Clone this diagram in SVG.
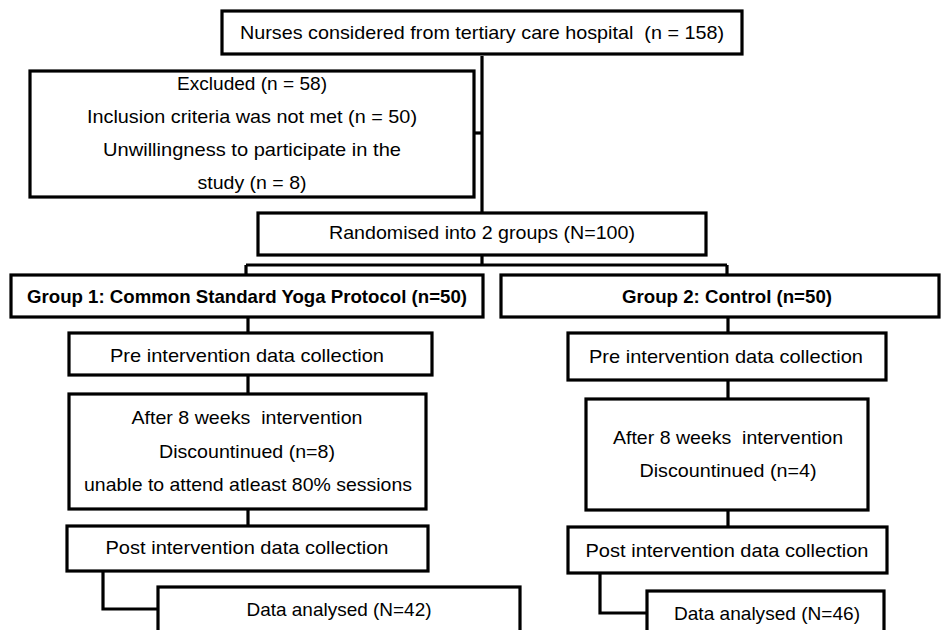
<svg xmlns="http://www.w3.org/2000/svg" width="942" height="630" viewBox="0 0 942 630">
<style>
rect.box{fill:#fff;stroke:#000;stroke-width:3.2}
.c{fill:none;stroke:#000;stroke-width:3.2}
text{font-family:"Liberation Sans",Arial,sans-serif;font-size:19px;fill:#000;text-anchor:middle}
text.b{font-weight:bold}
</style>
<rect width="942" height="630" fill="#fff"/>
<g id="connectors">
<path class="c" d="M482 56V214"/>
<path class="c" d="M474 133H482"/>
<path class="c" d="M482 255V265M246 265H727M246 265V276M727 265V276"/>
<path class="c" d="M248 317V334M248 375V394M248 509V527"/>
<path class="c" d="M728 317V334M728 380V399M728 510V528"/>
<path class="c" d="M103 571V609H158"/>
<path class="c" d="M600 573V613H647"/>
</g>
<g id="n_nurses"><rect class="box" x="222" y="11" width="520" height="43"/>
<text x="482" y="39" textLength="484" lengthAdjust="spacingAndGlyphs">Nurses considered from tertiary care hospital&#160; (n = 158)</text></g>
<g id="n_excluded"><rect class="box" x="30" y="71" width="444" height="126"/>
<text x="252" y="90" textLength="150" lengthAdjust="spacingAndGlyphs">Excluded (n = 58)</text>
<text x="252" y="123" textLength="330" lengthAdjust="spacingAndGlyphs">Inclusion criteria was not met (n = 50)</text>
<text x="252" y="156" textLength="298" lengthAdjust="spacingAndGlyphs">Unwillingness to participate in the</text>
<text x="252" y="189" textLength="109" lengthAdjust="spacingAndGlyphs">study (n = 8)</text></g>
<g id="n_random"><rect class="box" x="258" y="213" width="448" height="42"/>
<text x="482" y="239" textLength="306" lengthAdjust="spacingAndGlyphs">Randomised into 2 groups (N=100)</text></g>
<g id="n_g1"><rect class="box" x="11" y="275" width="472" height="42"/>
<text class="b" x="247" y="303" textLength="440" lengthAdjust="spacingAndGlyphs">Group 1: Common Standard Yoga Protocol (n=50)</text></g>
<g id="n_g2"><rect class="box" x="501" y="275" width="438" height="42"/>
<text class="b" x="727" y="303" textLength="210" lengthAdjust="spacingAndGlyphs">Group 2: Control (n=50)</text></g>
<g id="n_pre1"><rect class="box" x="69" y="333" width="363" height="42"/>
<text x="247" y="362" textLength="274" lengthAdjust="spacingAndGlyphs">Pre intervention data collection</text></g>
<g id="n_pre2"><rect class="box" x="568" y="333" width="318" height="47"/>
<text x="726" y="363" textLength="274" lengthAdjust="spacingAndGlyphs">Pre intervention data collection</text></g>
<g id="n_after1"><rect class="box" x="69" y="394" width="357" height="115"/>
<text x="247" y="424" textLength="231" lengthAdjust="spacingAndGlyphs">After 8 weeks&#160; intervention</text>
<text x="247" y="458" textLength="176" lengthAdjust="spacingAndGlyphs">Discountinued (n=8)</text>
<text x="248" y="491" textLength="328" lengthAdjust="spacingAndGlyphs">unable to attend atleast 80% sessions</text></g>
<g id="n_after2"><rect class="box" x="586" y="399" width="282" height="111"/>
<text x="728" y="444" textLength="230" lengthAdjust="spacingAndGlyphs">After 8 weeks&#160; intervention</text>
<text x="728" y="477" textLength="177" lengthAdjust="spacingAndGlyphs">Discountinued (n=4)</text></g>
<g id="n_post1"><rect class="box" x="67" y="526" width="361" height="45"/>
<text x="247" y="554" textLength="283" lengthAdjust="spacingAndGlyphs">Post intervention data collection</text></g>
<g id="n_post2"><rect class="box" x="568" y="527" width="319" height="46"/>
<text x="727" y="557" textLength="283" lengthAdjust="spacingAndGlyphs">Post intervention data collection</text></g>
<g id="n_data1"><rect class="box" x="158" y="587" width="362" height="60"/>
<text x="339" y="616" textLength="185" lengthAdjust="spacingAndGlyphs">Data analysed (N=42)</text></g>
<g id="n_data2"><rect class="box" x="647" y="591" width="237" height="60"/>
<text x="767" y="620" textLength="186" lengthAdjust="spacingAndGlyphs">Data analysed (N=46)</text></g>
</svg>
